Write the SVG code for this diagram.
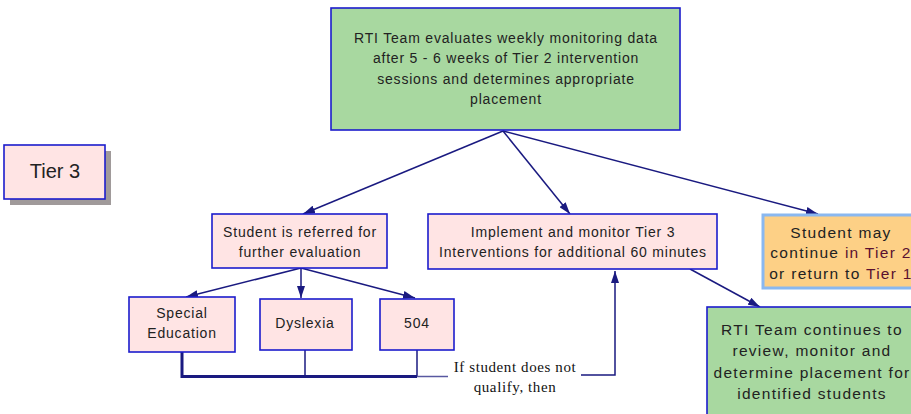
<svg xmlns="http://www.w3.org/2000/svg" width="911" height="414" viewBox="0 0 911 414">
<style>
.box{stroke:#1c1ccc;stroke-width:1.6}
.pink{fill:#ffe4e4}
.green{fill:#a8d8a0}
.orange{fill:#fdd086;stroke:#8ab8f0;stroke-width:3}
.t{font-family:"Liberation Sans",Arial,sans-serif;font-size:14px;letter-spacing:0.8px;fill:#222;text-anchor:middle}
.t15{font-family:"Liberation Sans",Arial,sans-serif;font-size:15.5px;letter-spacing:1.3px;fill:#222;text-anchor:middle}
.serif{font-family:"Liberation Serif","Times New Roman",serif;font-size:15px;letter-spacing:0.6px;fill:#111;text-anchor:middle}
.ln{stroke:#1a1a80;stroke-width:1.5;fill:none}
.mr{fill:#5a1030}
</style>
<defs>
<marker id="ah" viewBox="0 0 12 8" refX="12" refY="4" markerWidth="12" markerHeight="8" markerUnits="userSpaceOnUse" orient="auto">
<path d="M0,0 L12,4 L0,8 Z" fill="#1a1a80"/>
</marker>
</defs>
<g id="connectors">
<line class="ln" x1="503" y1="131" x2="303" y2="214" marker-end="url(#ah)"/>
<line class="ln" x1="503" y1="131" x2="570" y2="214" marker-end="url(#ah)"/>
<line class="ln" x1="503" y1="131" x2="818" y2="214" marker-end="url(#ah)"/>
<line class="ln" x1="301" y1="268" x2="186" y2="297" marker-end="url(#ah)"/>
<line class="ln" x1="301" y1="268" x2="301" y2="298" marker-end="url(#ah)"/>
<line class="ln" x1="301" y1="268" x2="415" y2="298" marker-end="url(#ah)"/>
<line class="ln" x1="690" y1="269" x2="760" y2="307" marker-end="url(#ah)"/>
<polyline points="182,352 182,376.5 417,376.5" fill="none" stroke="#1a1a80" stroke-width="3"/>
<line x1="305" y1="350" x2="305" y2="376" stroke="#1a1a80" stroke-width="1.5"/>
<line x1="417" y1="350" x2="417" y2="376" stroke="#1a1a80" stroke-width="1.5"/>
<line x1="417" y1="376.5" x2="448" y2="376.5" stroke="#5858a0" stroke-width="1.5"/>
<polyline class="ln" points="581,375 615,375 615,271" marker-end="url(#ah)"/>
</g>
<g id="tier3">
<rect x="10" y="151" width="101" height="54" fill="#a09a9a"/>
<rect class="box pink" x="4" y="145" width="101" height="54"/>
<text class="t" style="font-size:20px;letter-spacing:0" x="55" y="178">Tier 3</text>
</g>
<g id="evaluate">
<rect class="box green" x="331" y="8" width="349" height="122"/>
<text class="t" x="506" y="43">RTI Team evaluates weekly monitoring data</text>
<text class="t" x="506" y="63">after 5 - 6 weeks of Tier 2 intervention</text>
<text class="t" x="506" y="84">sessions and determines appropriate</text>
<text class="t" x="506" y="104">placement</text>
</g>
<g id="referred">
<rect class="box pink" x="212" y="214" width="175" height="54"/>
<text class="t" x="300" y="237">Student is referred for</text>
<text class="t" x="300" y="257">further evaluation</text>
</g>
<g id="implement">
<rect class="box pink" x="428" y="214" width="289" height="55"/>
<text class="t" x="573" y="237">Implement and monitor Tier 3</text>
<text class="t" x="573" y="257">Interventions for additional 60 minutes</text>
</g>
<g id="maycontinue">
<rect class="orange" x="763" y="215" width="156" height="73"/>
<text class="t15" x="841" y="238">Student may</text>
<text class="t15" x="841" y="258">continue <tspan class="mr">in Tier 2</tspan></text>
<text class="t15" x="841" y="279">or return to <tspan class="mr">Tier 1</tspan></text>
</g>
<g id="specialed">
<rect class="box pink" x="129" y="297" width="106" height="55"/>
<text class="t" x="182" y="318">Special</text>
<text class="t" x="182" y="338">Education</text>
</g>
<g id="dyslexia">
<rect class="box pink" x="260" y="299" width="92" height="51"/>
<text class="t" x="305" y="328">Dyslexia</text>
</g>
<g id="f504">
<rect class="box pink" x="380" y="299" width="74" height="51"/>
<text class="t" x="417" y="328">504</text>
</g>
<g id="continues">
<rect class="box green" x="707" y="307" width="215" height="120"/>
<text class="t15" x="812" y="335">RTI Team continues to</text>
<text class="t15" x="812" y="356">review, monitor and</text>
<text class="t15" x="812" y="378">determine placement for</text>
<text class="t15" x="812" y="399">identified students</text>
</g>
<g id="label">
<text class="serif" x="515" y="372">If student does not</text>
<text class="serif" x="515" y="392">qualify, then</text>
</g>
</svg>
